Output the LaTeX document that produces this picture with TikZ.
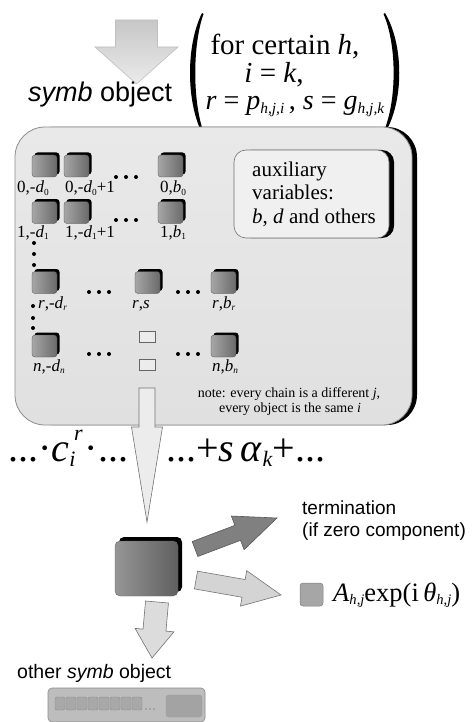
\documentclass[tikz,border=0pt]{standalone}
\usepackage{fontspec}
\setmainfont{Liberation Serif}
\setsansfont{Liberation Sans}
\usetikzlibrary{calc,shadows}

\definecolor{panelTop}{HTML}{E9E9E9}
\definecolor{panelMid}{HTML}{BCBCBC}
\definecolor{panelBot}{HTML}{E0E0E0}
\definecolor{edgeGray}{HTML}{8C8C8C}
\definecolor{cubeLight}{HTML}{A6A6A6}
\definecolor{cubeDark}{HTML}{6A6A6A}
\definecolor{arrowLight}{HTML}{DCDCDC}
\definecolor{arrowPale}{HTML}{ECECEC}
\definecolor{arrowDark}{HTML}{808080}

\newcommand\fsz[1]{\fontsize{#1}{#1}\selectfont}
\newcommand\vi[1]{\textit{#1}}
% small lowered index
\newcommand\sbs[1]{\raisebox{-0.3ex}{\scalebox{0.55}{#1}}}

% block arrow from #2 to #3: shaft half width #4, head half width #5, head length #6
\newcommand\blockarrowpath[6][]{%
  \coordinate (ba-h) at ($(#3)!#6!(#2)$);
  \path[#1] ($(#2)!#4!90:(#3)$) -- ($(ba-h)!#4!90:(#3)$) -- ($(ba-h)!#5!90:(#3)$)
    -- (#3) -- ($(ba-h)!#5!-90:(#3)$) -- ($(ba-h)!#4!-90:(#3)$)
    -- ($(#2)!#4!-90:(#3)$) -- cycle;}

\begin{document}
\begin{tikzpicture}[x=1pt,y=-1pt,
  cube/.style={rounded corners=3pt, left color=cubeLight, right color=cubeDark,
    draw=cubeDark!70!black, line width=0.3pt, minimum width=25pt, minimum height=22pt,
    inner sep=0pt, drop shadow={shadow xshift=2.5pt, shadow yshift=2.5pt, fill=black, opacity=1}},
  lab/.style={anchor=base west, inner sep=0pt, font=\fsz{17}},
  dotmark/.style={fill=black},
  token/.style={fill=arrowPale, draw=black!60, line width=0.6pt},
  sans/.style={anchor=base west, inner sep=0pt, font=\sffamily\fsz{19}},
]
\useasboundingbox (0,0) rectangle (474,722);
\fill[white] (0,0) rectangle (474,722);

% incoming arrow and heading
\coordinate (inA) at (136.5,20);
\coordinate (inB) at (136.5,84);
\blockarrowpath[top color=black!22, bottom color=black!8, draw=black!25, line width=0.6pt]{inA}{inB}{21pt}{41.5pt}{37pt}
\node[anchor=base west, inner sep=0pt, font=\sffamily\fsz{27}] (title) at (28,102) {\textit{symb} object};

% parentheses around the conditions
\fill (202,13) .. controls (186,45) and (186,101) .. (202,133) -- (203.5,132)
  .. controls (192.5,101) and (192.5,45) .. (203.5,14) -- cycle;
\fill (385,13) .. controls (404,45) and (404,101) .. (385,133) -- (383.5,132)
  .. controls (397,101) and (397,45) .. (383.5,14) -- cycle;
\node[anchor=base, inner sep=0pt, font=\fsz{29}] (cond1) at (285,55) {for certain \vi{h},};
\node[anchor=base, inner sep=0pt, font=\fsz{29}] (cond2) at (274,83) {\vi{i} = \vi{k},};
\node[anchor=base, inner sep=0pt, font=\fsz{28}] (cond3) at (295,110)
  {\vi{r} = \vi{p}\sbs{\vi{h,j,i}}\,, \vi{s} = \vi{g}\sbs{\vi{h,j,k}}};

% the symb object panel
\node[rounded corners=30pt, minimum width=397pt, minimum height=298pt,
  top color=panelTop, middle color=panelMid, bottom color=panelBot,
  draw=edgeGray, line width=0.8pt,
  drop shadow={shadow xshift=5pt, shadow yshift=0pt, fill=black, opacity=1}] (panel) at (213.5,276) {};

% auxiliary variables box
\node[rounded corners=12pt, minimum width=155pt, minimum height=88pt, fill=black!6,
  draw=black!55, line width=0.6pt,
  drop shadow={shadow xshift=5pt, shadow yshift=0pt, fill=black, opacity=1}] (aux) at (311.5,194) {};
\node[anchor=base west, inner sep=0pt, font=\fsz{21}] (aux1) at (252,176) {auxiliary};
\node[anchor=base west, inner sep=0pt, font=\fsz{21}] (aux2) at (252,200) {variables:};
\node[anchor=base west, inner sep=0pt, font=\fsz{21}] (aux3) at (252,223) {\vi{b}, \vi{d} and others};

% grid of chain elements
\node[cube] (c0a) at (44.5,166) {};
\node[cube] (c0b) at (76.5,166) {};
\node[cube] (c0n) at (170.5,166) {};
\node[cube] (c1a) at (44.5,212.5) {};
\node[cube] (c1b) at (76.5,212.5) {};
\node[cube] (c1n) at (170.5,212.5) {};
\node[cube] (cra) at (44.5,282.5) {};
\node[cube] (crs) at (147.5,282.5) {};
\node[cube] (crn) at (223.5,282.5) {};
\node[cube] (cna) at (44.5,346) {};
\node[cube] (cnn) at (223.5,346) {};

\node[lab] (l0a) at (17,193) {0,-\vi{d}\sbs{0}};
\node[lab] (l0b) at (65,193) {0,-\vi{d}\sbs{0}+1};
\node[lab] (l0n) at (160,193) {0,\vi{b}\sbs{0}};
\node[lab] (l1a) at (17,237) {1,-\vi{d}\sbs{1}};
\node[lab] (l1b) at (65,237) {1,-\vi{d}\sbs{1}+1};
\node[lab] (l1n) at (160,237) {1,\vi{b}\sbs{1}};
\node[lab] (lra) at (38,308) {\vi{r},-\vi{d}\sbs{\vi{r}}};
\node[lab] (lrs) at (132,308) {\vi{r},\vi{s}};
\node[lab] (lrn) at (212,308) {\vi{r},\vi{b}\sbs{\vi{r}}};
\node[lab] (lna) at (33,371) {\vi{n},-\vi{d}\sbs{\vi{n}}};
\node[lab] (lnn) at (212,371) {\vi{n},\vi{b}\sbs{\vi{n}}};

% ellipsis dots
\foreach \x/\y in {116/177, 126/177, 136/177, 116/220, 126/220, 136/220,
  89/292, 99/292, 109/292, 178/292, 188/292, 198/292,
  89/354, 99/354, 109/354, 178/354, 188/354, 198/354,
  34/243, 34/254, 34/265, 33/306, 33/318, 33/328}
  \fill[dotmark] (\x,\y) circle (2pt);

% selection arrow leaving the panel
\draw[token] (139,331) rectangle (155,342);
\draw[token] (139,359) rectangle (155,370);
\coordinate (selA) at (147,388);
\coordinate (selB) at (147,522);
\blockarrowpath[fill=arrowPale, draw=black!55, line width=0.6pt]{selA}{selB}{8pt}{15.5pt}{95pt}

\node[anchor=base, inner sep=0pt, font=\fsz{14}] (note1) at (289,397) {note: every chain is a different \vi{j},};
\node[anchor=base, inner sep=0pt, font=\fsz{14}] (note2) at (290,412) {every object is the same \vi{i}};

% product and sum expressions
\node[anchor=base west, inner sep=0pt, font=\fsz{40}] (prod) at (8,461)
  {...·\vi{c}\rlap{\sbs{\vi{i}}}\hspace{0.12em}\raisebox{0.52em}{\scalebox{0.55}{\vi{r}}}\hspace{0.05em}·...};
\node[anchor=base west, inner sep=0pt, font=\fsz{40}] (sum) at (166,461)
  {...+\vi{s}\,\vi{α}\sbs{\vi{k}}+...};

% selected element
\node[rounded corners=5pt, minimum width=63pt, minimum height=55pt, inner sep=0pt,
  left color=cubeLight!90!black, right color=cubeDark!90!black, draw=black!60, line width=0.4pt,
  drop shadow={shadow xshift=4pt, shadow yshift=4pt, fill=black, opacity=1}] (elem) at (146.5,568.5) {};

% outcomes
\coordinate (termA) at (195,549);
\coordinate (termB) at (277,518);
\blockarrowpath[fill=arrowDark, draw=black!65, line width=0.6pt]{termA}{termB}{8pt}{18pt}{42pt}
\node[sans] (term1) at (302,514) {termination};
\node[sans] (term2) at (302,536) {(if zero component)};

\coordinate (ampA) at (196,580);
\coordinate (ampB) at (281,595);
\blockarrowpath[fill=black!17, draw=black!55, line width=0.6pt]{ampA}{ampB}{9pt}{18pt}{38pt}
\node[rounded corners=3pt, minimum width=23pt, minimum height=23pt, inner sep=0pt,
  fill=black!35, draw=black!50, line width=0.5pt] (ampsq) at (311.5,594.5) {};
\node[anchor=base west, inner sep=0pt, font=\fsz{26.5}] (amp) at (333,601)
  {\vi{A}\sbs{\vi{h,j}}exp(i\,\vi{θ}\sbs{\vi{h,j}})};

\coordinate (nextA) at (157,602);
\coordinate (nextB) at (152,658);
\blockarrowpath[fill=arrowLight, draw=black!55, line width=0.6pt]{nextA}{nextB}{11.5pt}{19.5pt}{28pt}
\node[sans, font=\sffamily\fsz{19.5}] (other) at (17,678) {other \textit{symb} object};

% next symb object, collapsed
\node[rounded corners=4pt, minimum width=157pt, minimum height=34pt, inner sep=0pt,
  fill=black!26, draw=black!45, line width=0.6pt] (next) at (126.5,705) {};
\foreach \i in {0,...,7}
  \draw[rounded corners=1.5pt, fill=black!34, draw=black!45, line width=0.4pt]
    (55+\i*11,697) rectangle (65+\i*11,710);
\foreach \x in {146,150,154}
  \fill[black!45] (\x,709) circle (0.8pt);
\node[rounded corners=3pt, minimum width=36pt, minimum height=22pt, inner sep=0pt,
  fill=black!36, draw=black!40, line width=0.4pt] (nextsq) at (184,706) {};
\end{tikzpicture}
\end{document}
